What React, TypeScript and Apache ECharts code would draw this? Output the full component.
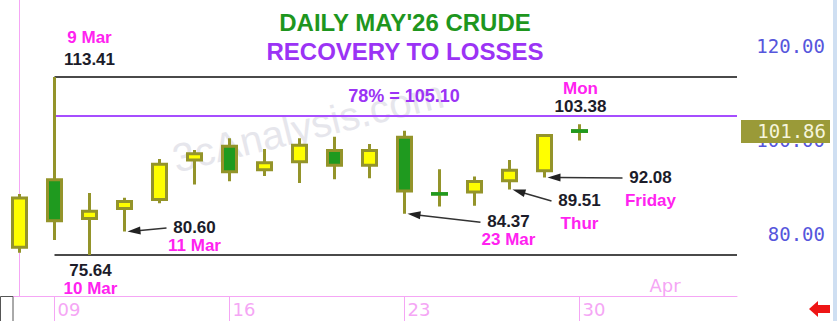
import React, { useEffect, useRef } from 'react';
import * as echarts from 'echarts';

// ---- data ----
const categories = ['6 Mar', '9 Mar', '10 Mar', '11 Mar', '12 Mar', '13 Mar', '16 Mar', '17 Mar', '18 Mar', '19 Mar', '20 Mar', '23 Mar', '24 Mar', '25 Mar', '26 Mar', '27 Mar', '30 Mar', '31 Mar', '1 Apr', '2 Apr', '3 Apr'];
const opens = [77.3, 91.6, 83.4, 85.5, 87.4, 95.8, 98.7, 93.7, 95.4, 97.8, 94.7, 100.6, 88.65, 89.0, 91.4, 93.5, 102.0];
const closes = [87.7, 82.9, 84.9, 87.0, 94.9, 97.1, 93.3, 95.2, 98.9, 94.7, 97.8, 89.2, 88.55, 91.2, 93.6, 101.0, 101.86];
const lows = [76.1, 78.8, 75.64, 80.6, 86.6, 90.6, 91.3, 92.4, 90.9, 91.7, 91.9, 84.37, 85.9, 86.1, 89.51, 92.08, 99.9];
const highs = [88.6, 113.41, 88.8, 87.8, 96.0, 97.9, 100.4, 98.1, 100.4, 100.7, 99.2, 102.0, 93.8, 92.3, 95.8, 101.3, 103.38];
const dojiDays = ['24 Mar', '30 Mar'];

const weekStarts = ['9 Mar', '16 Mar', '23 Mar', '30 Mar'];
const weekTickLabels = ['09', '16', '23', '30'];
const monthStart = '1 Apr';
const monthLabel = 'Apr';
const yTickLabels = [80, 100, 120];
const yMin = 66.93;
const yMax = 129.74;

const levelValues = [113.41, 105.1, 75.64];
const levelFrom = '9 Mar';
const lastPrice = 101.86;
const retraceText = '78% = 105.10';

const titleLine1 = "DAILY MAY'26 CRUDE";
const titleLine2 = 'RECOVERY TO LOSSES';
const watermark = '3cAnalysis.com';

const noteDates = ['9 Mar', '10 Mar', '11 Mar', '23 Mar', '26 Mar', '27 Mar', '30 Mar'];
const noteValues = [113.41, 75.64, 80.6, 84.37, 89.51, 92.08, 103.38];
const noteTags = ['9 Mar', '10 Mar', '11 Mar', '23 Mar', 'Thur', 'Friday', 'Mon'];

// ---- layout / styles (not data) ----
const noteLayout = [
  { dx: 35, dy: -17, tagDy: -22, arrow: false },
  { dx: 1, dy: 15.5, tagDy: 18, arrow: false },
  { dx: 70, dy: -4, tagDy: 18, arrow: true },
  { dx: 104, dy: 8, tagDy: 18, arrow: true },
  { dx: 70, dy: 11, tagDy: 23, arrow: true },
  { dx: 106, dy: 0, tagDy: 23, arrow: true },
  { dx: 1, dy: -17.5, tagDy: -18, arrow: false },
];
const levelColors = ['#4a4a4a', '#a64dff', '#4a4a4a'];

const PINK = '#f5a6f5';
const OLIVE = '#94942a';
const YELLOW = '#ffff00';
const GREEN = '#1f9a1f';
const MAGENTA = '#ff22f0';
const INK = '#1c1c2a';
const SANS = '"Liberation Sans", Arial, sans-serif';

export default function App() {
  const ref = useRef<HTMLDivElement>(null);

  useEffect(() => {
    document.body.style.margin = '0';
    if (!ref.current) return;
    const chart = echarts.init(ref.current, null, { renderer: 'svg' });

    const candleData = opens.map((o, i) => [o, closes[i], lows[i], highs[i]]);
    const dojiData = opens.map((o, i) =>
      dojiDays.includes(categories[i])
        ? [o, closes[i], Math.min(o, closes[i]), Math.max(o, closes[i])]
        : ['-', '-', '-', '-']
    );
    const fromIdx = categories.indexOf(levelFrom);
    const endIdx = categories.length - 0.5;

    const levelSeries = levelValues.map((v, k) => ({
      type: 'line',
      xAxisIndex: 1,
      yAxisIndex: 0,
      data: [[fromIdx, v], [endIdx, v]],
      symbol: 'none',
      silent: true,
      clip: false,
      lineStyle: { color: levelColors[k], width: 2 },
      z: 1,
    }));

    const option: any = {
      animation: false,
      backgroundColor: '#ffffff',
      textStyle: { fontFamily: SANS },
      grid: { left: 2, right: 100, top: 0, bottom: 25, containLabel: false },
      xAxis: [
        {
          type: 'category',
          data: categories,
          boundaryGap: true,
          axisLine: { show: true, lineStyle: { color: PINK, width: 1 } },
          axisTick: {
            show: true,
            alignWithLabel: true,
            interval: (_i: number, v: string) => weekStarts.includes(v),
            length: 25,
            lineStyle: { color: PINK, width: 1 },
          },
          axisLabel: {
            interval: 0,
            align: 'left',
            margin: 4,
            padding: [0, 0, 0, 3],
            color: PINK,
            fontSize: 18,
            fontFamily: 'DejaVu Sans',
            formatter: (v: string) => {
              const k = weekStarts.indexOf(v);
              return k >= 0 ? weekTickLabels[k] : '';
            },
          },
          splitLine: { show: false },
        },
        {
          type: 'value',
          min: -0.5,
          max: categories.length - 0.5,
          show: false,
        },
        {
          type: 'category',
          data: categories,
          position: 'bottom',
          axisLine: { show: false },
          axisTick: { show: false },
          axisLabel: {
            inside: true,
            interval: 0,
            align: 'left',
            margin: 2,
            color: PINK,
            fontSize: 18,
            fontFamily: 'DejaVu Sans',
            formatter: (v: string) => (v === monthStart ? monthLabel : ''),
          },
          splitLine: { show: false },
        },
      ],
      yAxis: [
        {
          type: 'value',
          position: 'right',
          offset: 3,
          min: yMin,
          max: yMax,
          axisLine: { show: true, lineStyle: { color: PINK, width: 1 } },
          axisTick: { show: false },
          splitLine: { show: false },
          axisLabel: {
            margin: 85,
            align: 'right',
            color: '#5656dc',
            fontSize: 19,
            fontFamily: 'DejaVu Sans Mono',
            formatter: (v: number) =>
              yTickLabels.some((t) => Math.abs(t - v) < 1e-6) ? v.toFixed(2) : '',
          },
        },
      ],
      series: [
        ...levelSeries,
        {
          type: 'candlestick',
          xAxisIndex: 0,
          yAxisIndex: 0,
          data: candleData,
          barWidth: 14,
          itemStyle: {
            color: YELLOW,
            color0: GREEN,
            borderColor: OLIVE,
            borderColor0: OLIVE,
            borderWidth: 3,
          },
          z: 3,
        },
        {
          type: 'candlestick',
          xAxisIndex: 0,
          yAxisIndex: 0,
          data: dojiData,
          barWidth: 14,
          itemStyle: {
            color: GREEN,
            color0: GREEN,
            borderColor: GREEN,
            borderColor0: GREEN,
            borderWidth: 3,
          },
          z: 4,
        },
      ],
    };

    chart.setOption(option);

    const px = (cat: string, v: number) =>
      chart.convertToPixel({ xAxisIndex: 0, yAxisIndex: 0 }, [cat, v]) as number[];

    const g: any[] = [];
    // watermark
    g.push({
      type: 'text',
      x: 308,
      y: 126,
      rotation: 0.24,
      z: 0,
      style: {
        text: watermark,
        fill: '#e6e6ec',
        fontSize: 40,
        fontFamily: SANS,
        align: 'center',
        verticalAlign: 'middle',
      },
    });
    // titles
    g.push({
      type: 'text',
      x: 405,
      y: 22,
      z: 10,
      style: { text: titleLine1, fill: '#1e961e', fontSize: 24, fontWeight: 'bold', fontFamily: SANS, align: 'center', verticalAlign: 'middle' },
    });
    g.push({
      type: 'text',
      x: 405,
      y: 51,
      z: 10,
      style: { text: titleLine2, fill: '#9b33f5', fontSize: 24, fontWeight: 'bold', fontFamily: SANS, align: 'center', verticalAlign: 'middle' },
    });
    // retracement label
    const retY = px(levelFrom, levelValues[1])[1];
    g.push({
      type: 'text',
      x: 404,
      y: retY - 20,
      z: 10,
      style: { text: retraceText, fill: '#9b33f5', fontSize: 18, fontWeight: 'bold', fontFamily: SANS, align: 'center', verticalAlign: 'middle' },
    });

    // last price label on the price axis
    const lastY = px(categories[0], lastPrice)[1];
    g.push({
      type: 'rect',
      z: 20,
      shape: { x: 741, y: lastY - 11.5, width: 89, height: 23 },
      style: { fill: '#9a9a38' },
    });
    g.push({
      type: 'text',
      z: 21,
      x: 826,
      y: lastY,
      style: { text: lastPrice.toFixed(2), fill: '#f5f5dc', fontSize: 19, fontFamily: 'DejaVu Sans Mono', align: 'right', verticalAlign: 'middle' },
    });

    // price notes
    noteDates.forEach((d, i) => {
      const L = noteLayout[i];
      const [ax, ay] = px(d, noteValues[i]);
      const tx = ax + L.dx;
      const ty = ay + L.dy;
      g.push({
        type: 'text',
        x: tx,
        y: ty,
        z: 10,
        style: { text: noteValues[i].toFixed(2), fill: INK, fontSize: 17, fontWeight: 'bold', fontFamily: SANS, align: 'center', verticalAlign: 'middle' },
      });
      g.push({
        type: 'text',
        x: tx,
        y: ty + L.tagDy,
        z: 10,
        style: { text: noteTags[i], fill: MAGENTA, fontSize: 17, fontWeight: 'bold', fontFamily: SANS, align: 'center', verticalAlign: 'middle' },
      });
      if (L.arrow) {
        const sx = tx - 28;
        const sy = ty + 0.5;
        const tipX = ax + 3;
        const tipY = ay;
        let dx = sx - tipX;
        let dy = sy - tipY;
        const len = Math.sqrt(dx * dx + dy * dy);
        dx /= len;
        dy /= len;
        const nx = -dy;
        const ny = dx;
        g.push({
          type: 'line',
          z: 10,
          shape: { x1: sx, y1: sy, x2: tipX + dx * 10, y2: tipY + dy * 10 },
          style: { stroke: '#333333', lineWidth: 1.5 },
        });
        g.push({
          type: 'polygon',
          z: 10,
          shape: {
            points: [
              [tipX, tipY],
              [tipX + dx * 13 + nx * 4, tipY + dy * 13 + ny * 4],
              [tipX + dx * 13 - nx * 4, tipY + dy * 13 - ny * 4],
            ],
          },
          style: { fill: '#222222' },
        });
      }
    });

    // decorations
    g.push({
      type: 'rect',
      z: 10,
      shape: { x: 0.5, y: 296.5, width: 12.5, height: 26 },
      style: { fill: 'none', stroke: '#555555', lineWidth: 1 },
    });
    g.push({
      type: 'rect',
      z: 10,
      shape: { x: 833, y: 0, width: 4, height: 321 },
      style: { fill: '#cfdff2' },
    });
    g.push({
      type: 'polygon',
      z: 10,
      shape: {
        points: [
          [809, 309],
          [818, 301],
          [818, 305],
          [830, 305],
          [830, 313],
          [818, 313],
          [818, 317],
        ],
      },
      style: { fill: '#ee1515' },
    });

    chart.setOption({ graphic: g });

    return () => chart.dispose();
  }, []);

  return <div ref={ref} style={{ width: 837, height: 321, background: '#ffffff' }} />;
}
